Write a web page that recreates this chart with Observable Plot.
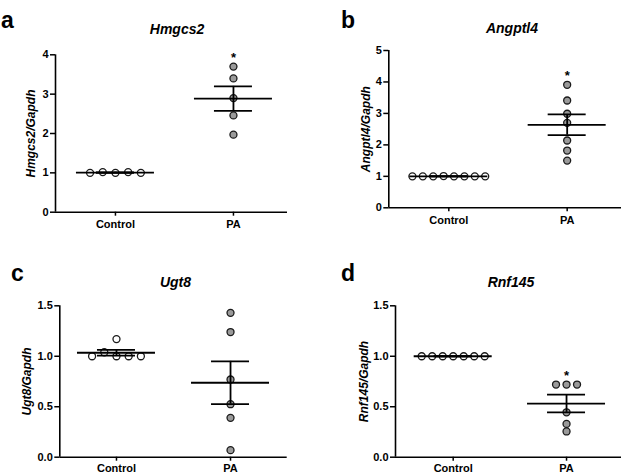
<!DOCTYPE html>
<html>
<head>
<meta charset="utf-8">
<script src="https://cdn.jsdelivr.net/npm/d3@7"></script>
<script src="https://cdn.jsdelivr.net/npm/@observablehq/plot@0.6"></script>
<style>
  html, body { margin: 0; padding: 0; background: #fff; }
  #root { position: relative; width: 621px; height: 473px; overflow: hidden; background: #fff; }
  .panel { position: absolute; }
  #overlay { position: absolute; left: 0; top: 0; pointer-events: none; }
</style>
</head>
<body>
<div id="root"></div>
<script>
// ---- data ----
const groups = ["Control", "PA"];
const genes = ["Hmgcs2", "Angptl4", "Ugt8", "Rnf145"];
const panelLetters = ["a", "b", "c", "d"];
const significant = [true, true, false, true];

const hmgcs2Control = [1.00, 1.02, 1.02, 1.00, 1.00];
const hmgcs2PA = [3.70, 3.40, 2.90, 2.46, 1.97];
const angptl4Control = [1.00, 1.01, 1.00, 1.00, 1.00, 1.00, 1.00, 1.00];
const angptl4PA = [3.91, 3.41, 2.99, 2.70, 2.14, 1.82, 1.50];
const ugt8Control = [1.00, 1.04, 1.00, 1.00, 1.00, 1.17];
const ugt8PA = [1.43, 1.24, 0.77, 0.525, 0.39, 0.07];
const rnf145Control = [1.00, 1.00, 1.00, 1.00, 1.00, 1.00, 1.00];
const rnf145PA = [0.72, 0.72, 0.72, 0.445, 0.33, 0.255];

const yTicksA = [0, 1, 2, 3, 4];
const yTicksB = [0, 1, 2, 3, 4, 5];
const yTicksCD = [0, 0.5, 1.0, 1.5];

const panelData = [
  [hmgcs2Control, hmgcs2PA],
  [angptl4Control, angptl4PA],
  [ugt8Control, ugt8PA],
  [rnf145Control, rnf145PA]
];
const panelTicks = [yTicksA, yTicksB, yTicksCD, yTicksCD];

// ---- layout (positions / styles) ----
const FONT = "'Liberation Sans', Arial, Helvetica, sans-serif";
const layout = [
  {left: 0,   top: 0,   width: 310, height: 236, ml: 55,   mr: 23,   mt: 54.3, mb: 24.3, xDomain: [-0.508, 1.458], step: 12.7, ylabDx: -24, fmt: "d",   xPad: 4, title: [177, 34.3], letter: [1, 28.3]},
  {left: 310, top: 0,   width: 311, height: 236, ml: 78.3, mr: 0,    mt: 50,   mb: 28.7, xDomain: [-0.507, 1.459], step: 10.4, ylabDx: -23, fmt: "d",   xPad: 4, title: [512, 33.3], letter: [341, 28.3]},
  {left: 0,   top: 236, width: 310, height: 237, ml: 59.3, mr: 23.3, mt: 69.3, mb: 16.3, xDomain: [-0.497, 1.497], step: 12.2, ylabDx: -32.5, fmt: ".1f", xPad: 2.5, title: [175.5, 286.7], letter: [11, 281]},
  {left: 310, top: 236, width: 311, height: 237, ml: 85,   mr: 0,    mt: 69.3, mb: 16.3, xDomain: [-0.509, 1.485], step: 10.5, ylabDx: -31.7, fmt: ".1f", xPad: 2.5, title: [511, 286.7], letter: [341, 281]}
];

const root = document.getElementById("root");

// simple beeswarm offsets in pixels
function swarm(values, ppuY, step, minDist) {
  const placed = [];
  const offs = [];
  const cand = [0];
  for (let k = 1; k < 20; k++) { cand.push(-k, k); }
  values.forEach(v => {
    const py = v * ppuY;
    for (const k of cand) {
      const ox = k * step;
      if (placed.every(p => Math.hypot(p.x - ox, p.y - py) >= minDist)) {
        placed.push({x: ox, y: py});
        offs.push(ox);
        break;
      }
    }
  });
  // centre each horizontal cluster
  const idx = values.map((v, i) => i).sort((a, b) => values[a] - values[b]);
  let cluster = [idx[0]];
  const clusters = [];
  for (let j = 1; j < idx.length; j++) {
    if ((values[idx[j]] - values[idx[j - 1]]) * ppuY < minDist) cluster.push(idx[j]);
    else { clusters.push(cluster); cluster = [idx[j]]; }
  }
  clusters.push(cluster);
  clusters.forEach(c => {
    const m = d3.mean(c, i => offs[i]);
    c.forEach(i => offs[i] -= m);
  });
  return offs;
}

panelData.forEach((data, p) => {
  const L = layout[p];
  const ticks = panelTicks[p];
  const yMax = d3.max(ticks);
  const fw = L.width - L.ml - L.mr;
  const fh = L.height - L.mt - L.mb;
  const ppuX = fw / (L.xDomain[1] - L.xDomain[0]);
  const ppuY = fh / yMax;

  const pts = [];
  data.forEach((vals, i) => {
    const off = swarm(vals, ppuY, L.step, 7.2);
    vals.forEach((v, j) => pts.push({g: i, x: i + off[j] / ppuX, y: v}));
  });
  const stats = data.map((vals, i) => {
    const m = d3.mean(vals);
    const s = (d3.deviation(vals) || 0) / Math.sqrt(vals.length);
    return {i, m, lo: m - s, hi: m + s, max: d3.max(vals)};
  });
  const caps = stats.flatMap(d => [{i: d.i, y: d.lo}, {i: d.i, y: d.hi}]);
  const meanHalf = 39 / ppuX, capHalf = 19 / ppuX;

  const chart = Plot.plot({
    width: L.width,
    height: L.height,
    marginLeft: L.ml, marginRight: L.mr, marginTop: L.mt, marginBottom: L.mb,
    x: {domain: L.xDomain},
    y: {domain: [0, yMax]},
    style: {fontFamily: FONT, fontSize: "11px", fontWeight: "bold", color: "#000", background: "transparent", overflow: "visible"},
    marks: [
      Plot.dot(pts.filter(d => d.g === 0), {x: "x", y: "y", r: 3.5, fill: "#ffffff", stroke: "#1a1a1a", strokeWidth: 1.3}),
      Plot.dot(pts.filter(d => d.g === 1), {x: "x", y: "y", r: 3.5, fill: "#9a9a9a", stroke: "#1a1a1a", strokeWidth: 1.3}),
      Plot.ruleY(stats, {y: "m", x1: d => d.i - meanHalf, x2: d => d.i + meanHalf, stroke: "#000", strokeWidth: 1.8}),
      Plot.ruleY(caps, {y: "y", x1: d => d.i - capHalf, x2: d => d.i + capHalf, stroke: "#000", strokeWidth: 1.8}),
      Plot.ruleX(stats, {x: "i", y1: "lo", y2: "hi", stroke: "#000", strokeWidth: 1.8}),
      Plot.text(stats.filter(d => d.i === 1 && significant[p]), {x: "i", y: "max", text: () => "*", dy: -9, fontSize: 13, fontWeight: "bold"}),
      Plot.ruleY([0], {stroke: "#000", strokeWidth: 1.6}),
      Plot.ruleX([L.xDomain[0]], {stroke: "#000", strokeWidth: 1.6}),
      Plot.axisY({ticks: ticks, tickFormat: d3.format(L.fmt), tickSize: 5, tickPadding: 2, strokeWidth: 1.5, label: null}),
      Plot.axisX({ticks: [0, 1], tickFormat: i => groups[i], tickSize: 4, tickPadding: L.xPad, strokeWidth: 1.5, label: null}),
      Plot.text([genes[p] + "/Gapdh"], {frameAnchor: "left", dx: L.ylabDx, rotate: -90, textAnchor: "middle", lineAnchor: "middle", fontSize: 12, fontWeight: "bold", fontStyle: "italic"})
    ]
  });
  const div = document.createElement("div");
  div.className = "panel";
  div.style.left = L.left + "px";
  div.style.top = L.top + "px";
  div.appendChild(chart);
  root.appendChild(div);
});

// titles and panel letters
const overlay = d3.select(root).append("svg")
  .attr("id", "overlay").attr("width", 621).attr("height", 473)
  .style("font-family", FONT);
layout.forEach((L, p) => {
  overlay.append("text")
    .attr("x", L.title[0]).attr("y", L.title[1])
    .attr("text-anchor", "middle")
    .attr("font-size", 14).attr("font-weight", "bold").attr("font-style", "italic")
    .text(genes[p]);
  overlay.append("text")
    .attr("x", L.letter[0]).attr("y", L.letter[1])
    .attr("font-size", 23).attr("font-weight", "bold")
    .text(panelLetters[p]);
});
</script>
</body>
</html>
